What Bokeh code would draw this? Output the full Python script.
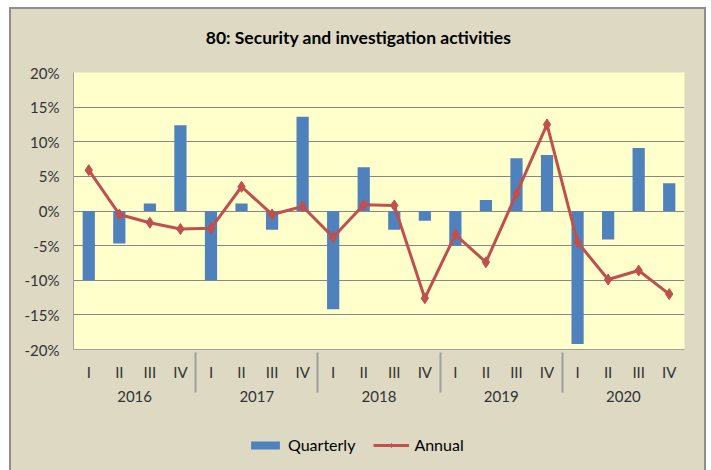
from bokeh.plotting import figure
from bokeh.layouts import column
from bokeh.models import (FactorRange, ColumnDataSource, PrintfTickFormatter, Legend,
                          LegendItem, FixedTicker, Range1d, Label)
from bokeh.embed import file_html
from bokeh.resources import INLINE

title_text = "80: Security and investigation activities"
years = ["2016", "2017", "2018", "2019", "2020"]
quarters = ["I", "II", "III", "IV"]
quarterly = [-10.0, -4.7, 1.1, 12.4,
             -10.0, 1.1, -2.7, 13.6,
             -14.2, 6.3, -2.7, -1.4,
             -5.0, 1.6, 7.6, 8.1,
             -19.2, -4.1, 9.1, 4.0]
annual = [5.9, -0.5, -1.7, -2.6,
          -2.5, 3.5, -0.5, 0.65,
          -3.8, 0.9, 0.8, -12.6,
          -3.4, -7.4, 2.5, 12.5,
          -4.5, -9.9, -8.6, -12.0]
y_ticks = [-20, -15, -10, -5, 0, 5, 10, 15, 20]

factors = [(y, q) for y in years for q in quarters]
src = ColumnDataSource(dict(x=factors, q=quarterly, a=annual))

FONT = "Lato"
TAN = "#DDD9C3"
BLUE = "#4F81BD"
RED = "#C0504D"

xr = FactorRange(*factors, range_padding=0, group_padding=0, factor_padding=0)

# title strip
tt = figure(x_range=xr, y_range=Range1d(1000, 1001), width=693, height=45,
            output_backend="svg", toolbar_location=None,
            x_axis_location=None, y_axis_location=None,
            min_border=0, background_fill_color=TAN, border_fill_color=TAN)
tt.outline_line_color = None
tt.grid.visible = False
tt.add_layout(Label(x=285, y=17, x_units="screen", y_units="screen", text=title_text,
                    text_font=FONT, text_font_size="17.5px", text_font_style="bold",
                    text_color="#000000", text_align="center", text_baseline="middle"))

# main chart
p = figure(x_range=xr, y_range=(-20, 20), width=693, height=376,
           output_backend="svg", toolbar_location=None,
           min_border_left=62, min_border_right=20, min_border_top=18, min_border_bottom=81,
           background_fill_color="#FFFFCC", border_fill_color=TAN)

p.vbar(x="x", top="q", bottom=0, width=0.4, source=src, color=BLUE, line_color=None)
p.line(x="x", y="a", source=src, color=RED, line_width=3)
p.scatter(x="x", y="a", source=src, marker="diamond", size=11, color=RED)

p.xgrid.grid_line_color = None
p.ygrid.grid_line_color = "#888888"
p.ygrid.grid_line_width = 1
p.outline_line_color = None

p.yaxis.ticker = FixedTicker(ticks=y_ticks)
p.yaxis.formatter = PrintfTickFormatter(format="%d%%")
p.yaxis.axis_line_color = "#A0A0A0"
p.yaxis.major_tick_line_color = None
p.yaxis.minor_tick_line_color = None
p.yaxis.major_label_text_font = FONT
p.yaxis.major_label_text_font_size = "15px"
p.yaxis.major_label_text_color = "#333333"
p.yaxis.major_label_standoff = 8

xa = p.xaxis[0]
xa.axis_line_color = "#A0A0A0"
xa.major_tick_line_color = None
xa.minor_tick_line_color = None
xa.major_label_text_font = FONT
xa.major_label_text_font_size = "15px"
xa.major_label_text_color = "#333333"
xa.major_label_standoff = 7
xa.group_text_font = FONT
xa.group_text_font_size = "15px"
xa.group_text_font_style = "normal"
xa.group_text_color = "#333333"
xa.separator_line_color = "#A0A0A0"
xa.separator_line_width = 2

# legend strip (same series, drawn outside its visible range)
lg = figure(x_range=xr, y_range=Range1d(1000, 1001), width=693, height=40,
            output_backend="svg", toolbar_location=None,
            x_axis_location=None, y_axis_location=None,
            min_border=0, background_fill_color=TAN, border_fill_color=TAN)
lg.outline_line_color = None
lg.grid.visible = False
lb = lg.vbar(x="x", top="q", bottom=0, width=0.4, source=src, color=BLUE, line_color=None)
ll = lg.line(x="x", y="a", source=src, color=RED, line_width=3)
ls = lg.scatter(x="x", y="a", source=src, marker="diamond", size=11, color=RED)

legend = Legend(items=[LegendItem(label="Quarterly", renderers=[lb]),
                       LegendItem(label="Annual", renderers=[ll, ls])],
                orientation="horizontal", location=(174, 16),
                background_fill_alpha=0, border_line_color=None,
                label_text_font=FONT, label_text_font_size="16px", label_text_color="#000000",
                glyph_width=36, glyph_height=10, spacing=18, label_standoff=5,
                padding=0, margin=0)
lg.add_layout(legend, "center")

layout = column(tt, p, lg, spacing=0, margin=(9, 0, 0, 11))
layout.styles = {"outline": "2px solid #8E8E8E", "background-color": TAN}

open("out.html", "w").write(file_html(layout, INLINE))
